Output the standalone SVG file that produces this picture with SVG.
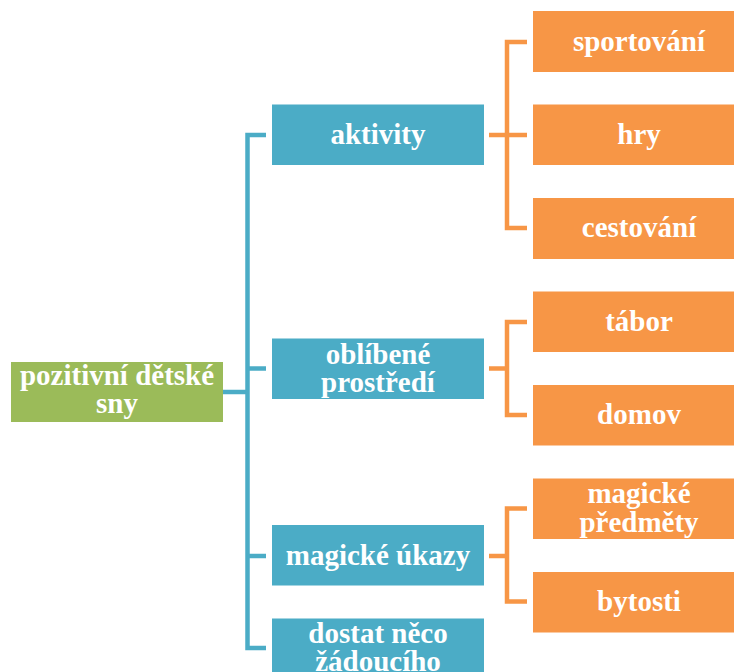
<svg xmlns="http://www.w3.org/2000/svg" width="734" height="672" viewBox="0 0 734 672">
  <style>
    .root { fill: #9BBB59; }
    .lvl1 { fill: #4BACC6; }
    .lvl2 { fill: #F79646; }
    .lbl { font-family: "Liberation Serif", "Times New Roman", serif; font-weight: bold; font-size: 29px; fill: #ffffff; text-anchor: middle; }
    .blue { fill: none; stroke: #4BACC6; stroke-width: 4.5; }
    .orange { fill: none; stroke: #F79646; stroke-width: 4.5; }
  </style>
  <rect width="734" height="672" fill="#ffffff"/>

  <g id="connectors">
    <!-- root to first level -->
    <path class="blue" d="M223 392 H247.5"/>
    <path class="blue" d="M266 135 H247.5 V648 H266"/>
    <path class="blue" d="M247.5 368.5 H266"/>
    <path class="blue" d="M247.5 556 H266"/>
    <!-- aktivity -->
    <path class="orange" d="M489 135 H507"/>
    <path class="orange" d="M527 42 H507 V228 H527"/>
    <path class="orange" d="M507 135 H527"/>
    <!-- oblíbené prostředí -->
    <path class="orange" d="M489 368.5 H507"/>
    <path class="orange" d="M527 322 H507 V415 H527"/>
    <!-- magické úkazy -->
    <path class="orange" d="M489 556 H507"/>
    <path class="orange" d="M527 508.5 H507 V601.5 H527"/>
  </g>

  <g id="root">
    <rect class="root" x="11" y="362" width="212" height="60"/>
    <text class="lbl" x="117" y="385">pozitivní dětské</text>
    <text class="lbl" x="117" y="413">sny</text>
  </g>

  <g id="aktivity">
    <rect class="lvl1" x="272" y="104.5" width="212" height="60.5"/>
    <text class="lbl" x="378" y="143.5">aktivity</text>
  </g>
  <g id="oblibene">
    <rect class="lvl1" x="272" y="338.5" width="212" height="60.5"/>
    <text class="lbl" x="378" y="363.5">oblíbené</text>
    <text class="lbl" x="378" y="392">prostředí</text>
  </g>
  <g id="magicke-ukazy">
    <rect class="lvl1" x="272" y="525" width="212" height="60.5"/>
    <text class="lbl" x="378" y="564.5">magické úkazy</text>
  </g>
  <g id="dostat">
    <rect class="lvl1" x="272" y="618.5" width="212" height="60.5"/>
    <text class="lbl" x="378" y="642.5">dostat něco</text>
    <text class="lbl" x="378" y="671">žádoucího</text>
  </g>

  <g id="sportovani">
    <rect class="lvl2" x="533" y="11" width="212" height="61"/>
    <text class="lbl" x="639" y="50.5">sportování</text>
  </g>
  <g id="hry">
    <rect class="lvl2" x="533" y="104.5" width="212" height="60.5"/>
    <text class="lbl" x="639" y="143.5">hry</text>
  </g>
  <g id="cestovani">
    <rect class="lvl2" x="533" y="198" width="212" height="61"/>
    <text class="lbl" x="639" y="237">cestování</text>
  </g>
  <g id="tabor">
    <rect class="lvl2" x="533" y="291.5" width="212" height="60.5"/>
    <text class="lbl" x="639" y="330.5">tábor</text>
  </g>
  <g id="domov">
    <rect class="lvl2" x="533" y="385" width="212" height="60.5"/>
    <text class="lbl" x="639" y="424">domov</text>
  </g>
  <g id="magicke-predmety">
    <rect class="lvl2" x="533" y="478.5" width="212" height="60.5"/>
    <text class="lbl" x="639" y="503">magické</text>
    <text class="lbl" x="639" y="531.5">předměty</text>
  </g>
  <g id="bytosti">
    <rect class="lvl2" x="533" y="572" width="212" height="60.5"/>
    <text class="lbl" x="639" y="611">bytosti</text>
  </g>
</svg>
